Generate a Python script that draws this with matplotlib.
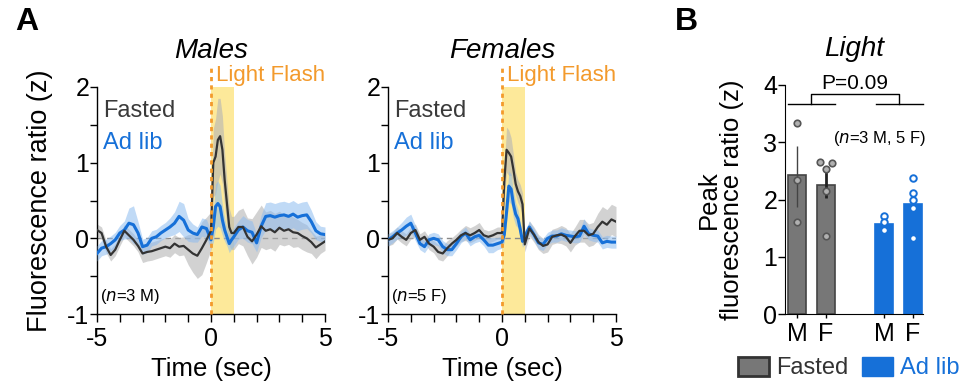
import numpy as np
import matplotlib
matplotlib.use("Agg")
import matplotlib.pyplot as plt
from matplotlib.patches import Patch
from matplotlib.ticker import MultipleLocator

plt.rcParams['font.family'] = ['Liberation Sans', 'DejaVu Sans']

# ---- data ----
time = [-5.0, -4.8, -4.6, -4.4, -4.2, -4.0, -3.8, -3.6, -3.4, -3.2,
        -3.0, -2.8, -2.6, -2.4, -2.2, -2.0, -1.8, -1.6, -1.4, -1.2,
        -1.0, -0.8, -0.6, -0.4, -0.2, 0.0,
        0.1, 0.2, 0.3, 0.4, 0.5, 0.6, 0.7, 0.8, 0.9, 1.0,
        1.2, 1.4, 1.6, 1.8, 2.0, 2.2, 2.4, 2.6, 2.8, 3.0,
        3.2, 3.4, 3.6, 3.8, 4.0, 4.2, 4.4, 4.6, 4.8, 5.0]

male_fasted = [0.11, 0.07, -0.11, -0.22, -0.15, -0.02, 0.10, 0.04, -0.02, -0.10,
               -0.20, -0.18, -0.17, -0.15, -0.13, -0.11, -0.13, -0.07, -0.11, -0.10,
               -0.15, -0.20, -0.23, -0.13, -0.02, 0.10,
               1.00, 1.08, 1.30, 1.35, 1.17, 0.77, 0.46, 0.15, 0.07, 0.07,
               0.15, 0.15, 0.02, -0.04, 0.05, 0.16, 0.10, 0.12, 0.08, 0.14,
               0.10, 0.12, 0.08, 0.07, 0.03, 0.00, -0.05, -0.12, -0.08, -0.04]
male_fasted_sem = [0.08, 0.08, 0.08, 0.08, 0.08, 0.08, 0.08, 0.08, 0.08, 0.08,
                   0.12, 0.12, 0.12, 0.12, 0.12, 0.12, 0.12, 0.12, 0.12, 0.12,
                   0.20, 0.25, 0.30, 0.35, 0.30, 0.25,
                   0.45, 0.50, 0.55, 0.50, 0.45, 0.35, 0.30, 0.25, 0.22, 0.22,
                   0.22, 0.25, 0.25, 0.30, 0.30, 0.28, 0.25, 0.25, 0.25, 0.22,
                   0.20, 0.20, 0.20, 0.18, 0.18, 0.18, 0.15, 0.15, 0.12, 0.12]
male_adlib = [-0.20, -0.13, -0.11, -0.07, -0.02, 0.07, 0.11, 0.20, 0.18, 0.07,
              -0.11, -0.09, 0.00, 0.02, 0.07, 0.11, 0.15, 0.20, 0.29, 0.24,
              0.11, 0.07, 0.05, 0.15, 0.13, -0.02,
              0.15, 0.42, 0.46, 0.42, 0.24, 0.11, 0.02, -0.07, -0.02, 0.02,
              0.11, 0.15, 0.10, 0.08, -0.06, 0.16, 0.29, 0.30, 0.28, 0.30,
              0.31, 0.29, 0.32, 0.28, 0.30, 0.31, 0.22, 0.10, 0.06, 0.05]
male_adlib_sem = [0.10, 0.10, 0.10, 0.10, 0.10, 0.10, 0.12, 0.20, 0.25, 0.15,
                  0.10, 0.10, 0.10, 0.10, 0.10, 0.10, 0.12, 0.15, 0.20, 0.22,
                  0.15, 0.12, 0.10, 0.12, 0.12, 0.12,
                  0.20, 0.30, 0.30, 0.28, 0.20, 0.15, 0.12, 0.12, 0.12, 0.12,
                  0.12, 0.15, 0.15, 0.15, 0.12, 0.15, 0.18, 0.18, 0.18, 0.18,
                  0.18, 0.18, 0.18, 0.18, 0.18, 0.18, 0.15, 0.12, 0.10, 0.10]

female_fasted = [-0.02, 0.00, 0.07, 0.02, -0.02, 0.07, 0.11, -0.02, 0.02, -0.07,
                 -0.11, -0.18, -0.20, -0.13, -0.07, -0.02, 0.04, 0.07, 0.04, 0.07,
                 0.11, 0.04, 0.02, 0.04, 0.07, 0.07,
                 0.75, 1.17, 1.13, 1.08, 0.91, 0.72, 0.62, 0.56, 0.45, -0.08,
                 0.13, 0.05, -0.05, -0.10, -0.08, 0.02, 0.04, 0.05, 0.02, -0.06,
                 0.03, 0.10, 0.10, 0.04, 0.06, 0.15, 0.22, 0.18, 0.25, 0.22]
female_fasted_sem = [0.08, 0.08, 0.08, 0.08, 0.08, 0.08, 0.08, 0.08, 0.08, 0.08,
                     0.08, 0.10, 0.10, 0.10, 0.08, 0.08, 0.08, 0.10, 0.10, 0.10,
                     0.10, 0.08, 0.08, 0.08, 0.08, 0.08,
                     0.20, 0.30, 0.30, 0.25, 0.20, 0.15, 0.15, 0.15, 0.15, 0.10,
                     0.10, 0.10, 0.10, 0.10, 0.10, 0.10, 0.10, 0.12, 0.12, 0.12,
                     0.12, 0.15, 0.15, 0.15, 0.15, 0.18, 0.20, 0.20, 0.20, 0.20]
female_adlib = [-0.02, 0.02, 0.07, 0.11, 0.16, 0.20, 0.07, -0.07, -0.11, -0.02,
                0.00, -0.02, -0.11, -0.15, -0.15, -0.07, 0.02, 0.07, -0.02, 0.02,
                0.04, -0.02, -0.09, -0.09, -0.07, -0.05,
                0.05, 0.35, 0.69, 0.65, 0.45, 0.32, 0.26, 0.12, -0.04, 0.02,
                0.15, 0.05, -0.06, -0.08, 0.00, 0.03, 0.03, 0.06, 0.04, 0.03,
                0.02, 0.03, 0.16, 0.06, 0.04, 0.03, -0.06, -0.04, -0.05, -0.05]
female_adlib_sem = [0.08, 0.08, 0.08, 0.10, 0.12, 0.12, 0.10, 0.08, 0.08, 0.08,
                    0.08, 0.08, 0.08, 0.08, 0.08, 0.08, 0.08, 0.08, 0.08, 0.08,
                    0.08, 0.08, 0.10, 0.10, 0.08, 0.08,
                    0.10, 0.15, 0.20, 0.20, 0.18, 0.15, 0.12, 0.10, 0.08, 0.08,
                    0.08, 0.08, 0.08, 0.08, 0.08, 0.08, 0.08, 0.08, 0.08, 0.08,
                    0.08, 0.08, 0.10, 0.08, 0.08, 0.08, 0.08, 0.08, 0.08, 0.08]

# panel B
bar_labels = ['M', 'F', 'M', 'F']
bar_means = [2.42, 2.25, 1.58, 1.92]
bar_err_lo = [0.55, 0.22, 0.0, 0.0]
bar_err_hi = [0.51, 0.24, 0.0, 0.0]
bar_points = [[3.33, 2.34, 1.60],
              [2.66, 2.63, 2.53, 2.15, 1.37],
              [1.71, 1.60, 1.47],
              [2.37, 2.11, 1.99, 1.85, 1.32]]
bar_point_dx = [[0, 0, 0],
                [-0.22, 0.22, 0, 0, 0],
                [0, 0, 0],
                [0, 0, 0, 0, 0]]
bar_x = [0, 1, 3, 4]

BLACK = '#333333'
BLUE = '#1670d8'
ORANGE = '#f39a2c'
YELLOW = '#fde99a'

fig = plt.figure(figsize=(9.66, 3.85), dpi=100)


def trace_panel(ax, mf, mf_sem, ma, ma_sem, title, ntext, show_ylabel):
    t = np.array(time)
    ax.axvspan(0, 1, color=YELLOW, zorder=0, lw=0)
    ax.axhline(0, color='#888888', ls=(0, (4, 3)), lw=1, zorder=1)
    mf = np.array(mf); mf_sem = np.array(mf_sem)
    ma = np.array(ma); ma_sem = np.array(ma_sem)
    ax.fill_between(t, mf - mf_sem, mf + mf_sem, color='#b5b5b5', alpha=0.6, lw=0, zorder=2)
    ax.fill_between(t, ma - ma_sem, ma + ma_sem, color='#8dbcf0', alpha=0.55, lw=0, zorder=3)
    ax.plot(t, mf, color=BLACK, lw=1.6, zorder=5)
    ax.plot(t, ma, color=BLUE, lw=2.2, zorder=4)
    ax.plot([0, 0], [-1, 2.3], color=ORANGE, ls=(0, (1.5, 1.5)), lw=2,
            clip_on=False, zorder=6)
    ax.text(0.2, 2.15, 'Light Flash', color=ORANGE, fontsize=16,
            va='center', ha='left')
    ax.text(-4.72, 1.68, 'Fasted', color='#3a3a3a', fontsize=17, va='center')
    ax.text(-4.72, 1.26, 'Ad lib', color=BLUE, fontsize=17, va='center')
    ax.text(-4.87, -0.77, '($\\it{n}$=' + ntext + ')', fontsize=12, va='center')
    ax.set_xlim(-5, 5)
    ax.set_ylim(-1, 2)
    ax.set_xticks([-5, 0, 5])
    ax.xaxis.set_minor_locator(MultipleLocator(1))
    ax.set_yticks([-1, 0, 1, 2])
    ax.yaxis.set_minor_locator(MultipleLocator(0.5))
    ax.set_yticklabels(['-1', '0', '1', '2'])
    ax.set_xticklabels(['-5', '0', '5'])
    ax.tick_params(axis='x', which='both', length=5.5, width=1, labelsize=18, pad=4)
    ax.tick_params(axis='y', which='both', length=5, width=1, labelsize=18, pad=0.5)
    for s in ['top', 'right']:
        ax.spines[s].set_visible(False)
    for s in ['left', 'bottom']:
        ax.spines[s].set_linewidth(1)
    ax.set_title(title, fontsize=20, style='italic', pad=21)
    ax.set_xlabel('Time (sec)', fontsize=18.5, labelpad=4)
    if show_ylabel:
        ax.set_ylabel('Fluorescence ratio (z)', fontsize=19.5)
        ax.yaxis.set_label_coords(-0.193, 0.5)


ax1 = fig.add_axes([97 / 966, 71 / 385, 228 / 966, 227 / 385])
trace_panel(ax1, male_fasted, male_fasted_sem, male_adlib, male_adlib_sem,
            'Males', '3 M', True)
ax2 = fig.add_axes([388 / 966, 71 / 385, 228 / 966, 227 / 385])
trace_panel(ax2, female_fasted, female_fasted_sem, female_adlib, female_adlib_sem,
            'Females', '5 F', False)

# ---- panel B ----
ax3 = fig.add_axes([785 / 966, 71 / 385, 138 / 966, 229 / 385])
face = ['#777777', '#777777', BLUE, BLUE]
edge = ['#444444', '#444444', BLUE, BLUE]
ax3.bar(bar_x, bar_means, width=0.62, color=face, edgecolor=edge, lw=1.2, zorder=2)
ax3.errorbar(bar_x[0], bar_means[0], yerr=[[bar_err_lo[0]], [bar_err_hi[0]]],
             fmt='none', ecolor='#444444', elinewidth=1, capsize=0, zorder=3)
ax3.errorbar(bar_x[1], bar_means[1], yerr=[[bar_err_lo[1]], [bar_err_hi[1]]],
             fmt='none', ecolor='#222222', elinewidth=2, capsize=0, zorder=3)
for i, pts in enumerate(bar_points):
    xs = [bar_x[i] + d for d in bar_point_dx[i]]
    if i < 2:
        ax3.scatter(xs, pts, s=22, facecolor='#b0b0b0', edgecolor='#555555',
                    lw=1.2, zorder=4, clip_on=False)
    else:
        ax3.scatter(xs, pts, s=22, facecolor='white', edgecolor=BLUE,
                    lw=1.4, zorder=4, clip_on=False)
ax3.set_xlim(-0.41, 4.34)
ax3.set_ylim(0, 4)
ax3.set_yticks([0, 1, 2, 3, 4])
ax3.set_xticks(bar_x)
ax3.set_xticklabels(bar_labels)
ax3.tick_params(axis='x', length=3, width=1, labelsize=18, pad=3)
ax3.tick_params(axis='y', length=5, width=1, labelsize=18, pad=0.5)
for s in ['top', 'right']:
    ax3.spines[s].set_visible(False)
ax3.set_ylabel('Peak\nfluorescence ratio (z)', fontsize=18.5,
               linespacing=0.95)
ax3.yaxis.set_label_coords(-0.30, 0.5)
ax3.set_title('Light', fontsize=20, style='italic', pad=21)

# bracket
ax3.plot([-0.31, 1.31], [3.67, 3.67], color='k', lw=1, clip_on=False)
ax3.plot([2.72, 4.34], [3.67, 3.67], color='k', lw=1, clip_on=False)
ax3.plot([0.5, 0.5, 3.53, 3.53], [3.67, 3.84, 3.84, 3.67], color='k', lw=1,
         clip_on=False)
ax3.text(2.0, 3.86, 'P=0.09', fontsize=15, ha='center', va='bottom')
ax3.text(1.24, 3.07, '($\\it{n}$=3 M, 5 F)', fontsize=12, va='center')

handles = [Patch(facecolor='#777777', edgecolor='#333333', lw=2),
           Patch(facecolor=BLUE, edgecolor=BLUE)]
fig.legend(handles, ['Fasted', 'Ad lib'], loc='center left',
           bbox_to_anchor=(738 / 966, 17 / 385), ncol=2, frameon=False,
           fontsize=17, handlelength=1.3, handleheight=0.85, handletextpad=0.3,
           columnspacing=0.6, labelcolor=['#333333', BLUE], borderaxespad=0,
           borderpad=0)

fig.text(15 / 966, 1 - 22 / 385, 'A', fontsize=23, fontweight='bold', va='center')
fig.text(675 / 966, 1 - 22 / 385, 'B', fontsize=23, fontweight='bold', va='center')

fig.savefig('out.png', dpi=100)
